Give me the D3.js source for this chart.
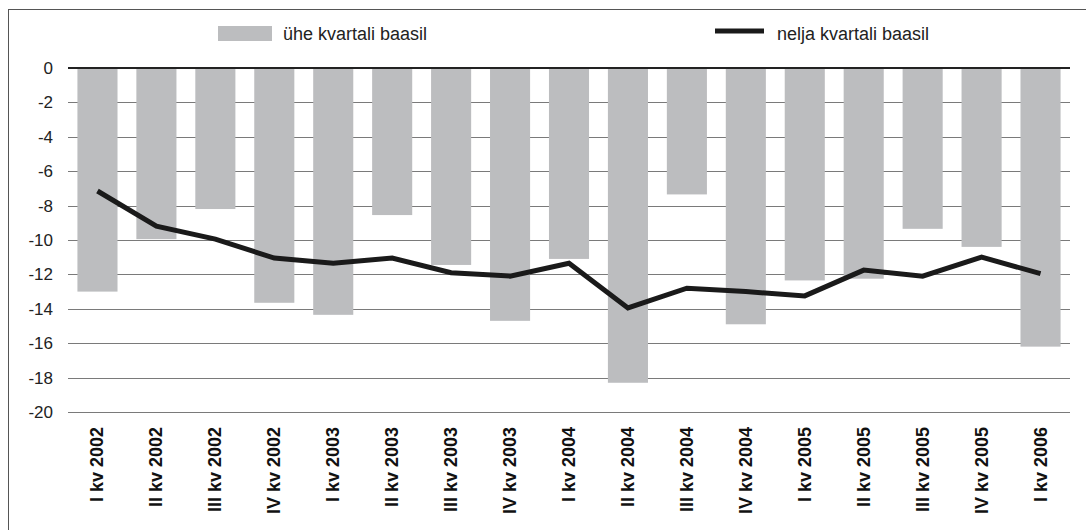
<!DOCTYPE html>
<html>
<head>
<meta charset="utf-8">
<script src="https://cdn.jsdelivr.net/npm/d3@7"></script>
<style>
  html, body { margin: 0; padding: 0; background: #fff; }
  svg { display: block; font-family: "Liberation Sans", Arial, sans-serif; }
</style>
</head>
<body>
<script>
// quarters
const categories = [
  'I kv 2002', 'II kv 2002', 'III kv 2002', 'IV kv 2002',
  'I kv 2003', 'II kv 2003', 'III kv 2003', 'IV kv 2003',
  'I kv 2004', 'II kv 2004', 'III kv 2004', 'IV kv 2004',
  'I kv 2005', 'II kv 2005', 'III kv 2005', 'IV kv 2005',
  'I kv 2006'
];
// one quarter basis (bars)
const oneQuarter = [
  -13.0, -9.95, -8.2, -13.65,
  -14.35, -8.55, -11.45, -14.7,
  -11.1, -18.3, -7.35, -14.9,
  -12.35, -12.25, -9.35, -10.4,
  -16.2
];
// four quarter basis (line)
const fourQuarter = [
  -7.15, -9.2, -9.95, -11.05,
  -11.35, -11.05, -11.9, -12.1,
  -11.35, -13.95, -12.8, -13.0,
  -13.25, -11.75, -12.1, -11.0,
  -11.95
];
const yTicks = [0, -2, -4, -6, -8, -10, -12, -14, -16, -18, -20];
const legendLabels = ['ühe kvartali baasil', 'nelja kvartali baasil'];

const W = 1086, H = 530;
const plot = { left: 68, right: 1070, top: 68, bottom: 412 };

const svg = d3.select('body').append('svg')
    .attr('width', W)
    .attr('height', H);

// outer frame (right and bottom run off the picture)
svg.append('rect')
    .attr('x', 8.5).attr('y', 9.5)
    .attr('width', W).attr('height', H)
    .attr('fill', 'none')
    .attr('stroke', '#555')
    .attr('stroke-width', 1);

const x = d3.scaleBand()
    .domain(categories)
    .range([plot.left, plot.right])
    .paddingInner(0.32)
    .paddingOuter(0.16);

const y = d3.scaleLinear()
    .domain([-20, 0])
    .range([plot.bottom, plot.top]);

// gridlines
svg.append('g')
    .selectAll('line')
    .data(yTicks.filter(d => d !== 0))
    .enter()
    .append('line')
    .attr('x1', plot.left).attr('x2', plot.right)
    .attr('y1', d => Math.round(y(d)) + 0.5)
    .attr('y2', d => Math.round(y(d)) + 0.5)
    .attr('stroke', '#7a7a7a')
    .attr('stroke-width', 1);

// y axis labels (plain hyphen like the original)
svg.append('g')
    .attr('transform', `translate(${plot.left},0)`)
    .call(d3.axisLeft(y).tickValues(yTicks).tickSize(0).tickPadding(15).tickFormat(d => String(d)))
    .call(g => g.select('.domain').remove())
    .call(g => g.selectAll('text')
        .attr('font-size', 17)
        .attr('font-family', '"Liberation Sans", Arial, sans-serif')
        .attr('fill', '#222'));

// bars
svg.append('g')
    .selectAll('rect')
    .data(oneQuarter)
    .enter()
    .append('rect')
    .attr('x', (d, i) => x(categories[i]))
    .attr('y', y(0))
    .attr('width', x.bandwidth())
    .attr('height', d => y(d) - y(0))
    .attr('fill', '#bcbdbf');

// zero line
svg.append('line')
    .attr('x1', plot.left).attr('x2', plot.right)
    .attr('y1', y(0)).attr('y2', y(0))
    .attr('stroke', '#222')
    .attr('stroke-width', 2);

// four quarter line
const line = d3.line()
    .x((d, i) => x(categories[i]) + x.bandwidth() / 2)
    .y(d => y(d));

svg.append('path')
    .datum(fourQuarter)
    .attr('d', line)
    .attr('fill', 'none')
    .attr('stroke', '#1a1a1a')
    .attr('stroke-width', 5)
    .attr('stroke-linejoin', 'miter');

// x labels, rotated
svg.append('g')
    .selectAll('text')
    .data(categories)
    .enter()
    .append('text')
    .attr('transform', d => `translate(${x(d) + x.bandwidth() / 2 + 6},427) rotate(-90)`)
    .attr('text-anchor', 'end')
    .attr('font-size', 18)
    .attr('font-weight', 'bold')
    .attr('fill', '#111')
    .text(d => d);

// legend
const legend = svg.append('g');
legend.append('rect')
    .attr('x', 218).attr('y', 26)
    .attr('width', 54).attr('height', 15)
    .attr('fill', '#bcbdbf');
legend.append('text')
    .attr('x', 283).attr('y', 40)
    .attr('font-size', 18)
    .attr('fill', '#222')
    .text(legendLabels[0]);
legend.append('line')
    .attr('x1', 715).attr('x2', 764)
    .attr('y1', 31).attr('y2', 31)
    .attr('stroke', '#1a1a1a')
    .attr('stroke-width', 5);
legend.append('text')
    .attr('x', 777).attr('y', 40)
    .attr('font-size', 18)
    .attr('fill', '#222')
    .text(legendLabels[1]);
</script>
</body>
</html>
